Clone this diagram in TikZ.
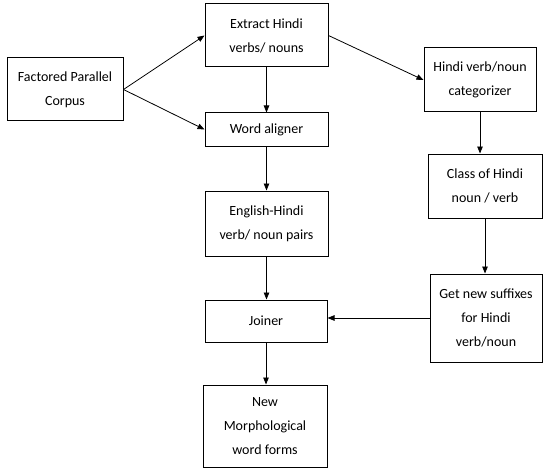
\documentclass[tikz,border=0pt]{standalone}
\usepackage{fontspec}
\setmainfont{Carlito}
\usetikzlibrary{calc, arrows.meta}

\begin{document}
\begin{tikzpicture} [
  x=1pt, y=-1pt,
  box/.style={
    draw, rectangle, line width=1pt, align=center, inner sep=0pt,
    font=\fontsize{14}{24}\selectfont
  },
  link/.style={-{Triangle[length=7pt, width=5.5pt]}, line width=0.8pt}
  ]
  \useasboundingbox (0,0) rectangle (543,468);
  \node(corpus)[box, minimum width=116pt, minimum height=63pt] at (65,89.5) {Factored Parallel\\Corpus};
  \node(extract)[box, minimum width=123pt, minimum height=63pt] at (266.5,35.5) {Extract Hindi\\verbs/ nouns};
  \node(aligner)[box, minimum width=123pt, minimum height=33pt] at (266.5,129.5) {Word aligner};
  \node(pairs)[box, minimum width=123pt, minimum height=65pt] at (266.5,223.5) {English-Hindi\\verb/ noun pairs};
  \node(joiner)[box, minimum width=122pt, minimum height=42pt] at (266,321) {Joiner};
  \node(forms)[box, minimum width=124pt, minimum height=82pt] at (265,426) {New\\Morphological\\word forms};
  \node(categ)[box, minimum width=112pt, minimum height=64pt] at (480,80) {Hindi verb/noun\\categorizer};
  \node(class)[box, minimum width=114pt, minimum height=64pt] at (485,186) {Class of Hindi\\noun / verb};
  \node(suffix)[box, minimum width=112pt, minimum height=88pt] at (486,318) {Get new suffixes\\for Hindi\\verb/noun};
  \begin{scope}[link]
    \draw (corpus.east) -- (extract.west);
    \draw (corpus.east) -- (aligner.west);
    \draw (extract.east) -- (categ.west);
    \draw (extract) -- (aligner);
    \draw (aligner) -- (pairs);
    \draw (pairs.south) -- (pairs.south |- joiner.north);
    \draw (joiner.south) -- (joiner.south |- forms.north);
    \draw (categ.south) -- (categ.south |- class.north);
    \draw (class.south) -- (class.south |- suffix.north);
    \draw (suffix.west) -- (suffix.west -| joiner.east);
  \end{scope}
\end{tikzpicture}
\end{document}
